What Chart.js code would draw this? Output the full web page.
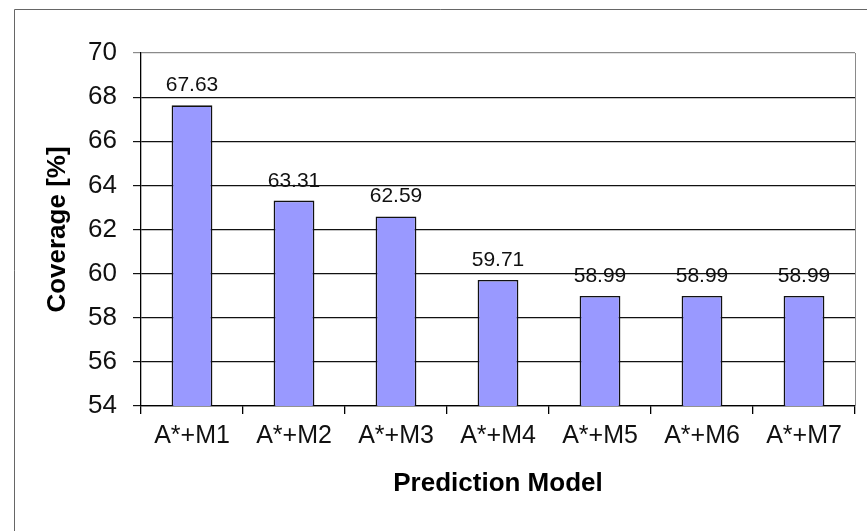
<!DOCTYPE html>
<html>
<head>
<meta charset="utf-8">
<title>Coverage by prediction model</title>
<script src="https://cdn.jsdelivr.net/npm/chart.js@4.4.1/dist/chart.umd.min.js"></script>
<style>
  html, body { margin: 0; padding: 0; background: #ffffff; }
  #wrap { position: relative; width: 867px; height: 531px; }
</style>
</head>
<body>
<div id="wrap"><canvas id="chart" width="867" height="531"></canvas></div>
<script>
// Prediction models and their coverage (%)
const models = ['A*+M1', 'A*+M2', 'A*+M3', 'A*+M4', 'A*+M5', 'A*+M6', 'A*+M7'];
const coverage = [67.63, 63.31, 62.59, 59.71, 58.99, 58.99, 58.99];
const valueLabels = ['67.63', '63.31', '62.59', '59.71', '58.99', '58.99', '58.99'];
const yMin = 54;
const yMax = 70;
const yStep = 2;

const FONT = '"Liberation Sans", Arial, Helvetica, sans-serif';

// Outer frame (left and top edges) plus the grey right border of the plot
const framePlugin = {
  id: 'frame',
  beforeDraw(chart) {
    const ctx = chart.ctx;
    ctx.save();
    ctx.strokeStyle = '#666666';
    ctx.lineWidth = 1;
    ctx.beginPath();
    ctx.moveTo(14.5, chart.height);
    ctx.lineTo(14.5, 9.5);
    ctx.lineTo(chart.width, 9.5);
    ctx.stroke();
    ctx.restore();
  },
  afterDatasetsDraw(chart) {
    const a = chart.chartArea;
    const ctx = chart.ctx;
    ctx.save();
    ctx.strokeStyle = '#8a8a8a';
    ctx.lineWidth = 1;
    ctx.beginPath();
    ctx.moveTo(Math.round(a.right) + 0.5, a.top);
    ctx.lineTo(Math.round(a.right) + 0.5, a.bottom);
    ctx.stroke();
    ctx.restore();
  }
};

// Value written above each bar
const valueLabelPlugin = {
  id: 'valueLabels',
  afterDatasetsDraw(chart) {
    const ctx = chart.ctx;
    const meta = chart.getDatasetMeta(0);
    ctx.save();
    ctx.font = '21px ' + FONT;
    ctx.fillStyle = '#111111';
    ctx.textAlign = 'center';
    ctx.textBaseline = 'alphabetic';
    meta.data.forEach((bar, i) => {
      ctx.fillText(valueLabels[i], bar.x, bar.y - 14);
    });
    ctx.restore();
  }
};

new Chart(document.getElementById('chart'), {
  type: 'bar',
  data: {
    labels: models,
    datasets: [{
      data: coverage,
      backgroundColor: '#9999ff',
      borderColor: '#111111',
      borderWidth: 1.6,
      borderSkipped: false,
      categoryPercentage: 1.0,
      barPercentage: 0.4
    }]
  },
  options: {
    responsive: false,
    animation: false,
    devicePixelRatio: 1,
    layout: { padding: { left: 42, right: 12, top: 53, bottom: 32 } },
    plugins: {
      legend: { display: false },
      tooltip: { enabled: false }
    },
    scales: {
      x: {
        type: 'category',
        offset: true,
        grid: {
          offset: true,
          drawOnChartArea: false,
          drawTicks: true,
          tickLength: 8,
          color: '#000000',
          lineWidth: 1.3
        },
        border: { display: true, color: '#000000', width: 1.3 },
        ticks: {
          color: '#111111',
          font: { family: FONT, size: 25 },
          padding: 7,
          maxRotation: 0,
          autoSkip: false
        },
        title: {
          display: true,
          text: 'Prediction Model',
          color: '#000000',
          font: { family: FONT, size: 26, weight: 'bold', lineHeight: 1.2 },
          padding: { top: 0, bottom: 0 }
        },
        afterFit(scale) { scale.height = 93; }
      },
      y: {
        min: yMin,
        max: yMax,
        grid: {
          color: (c) => (c.tick && c.tick.value === yMax ? '#8a8a8a' : '#111111'),
          lineWidth: 1.2,
          drawTicks: true,
          tickLength: 8
        },
        border: { display: true, color: '#000000', width: 1.3 },
        ticks: {
          stepSize: yStep,
          color: '#111111',
          font: { family: FONT, size: 26 },
          padding: 16
        },
        title: {
          display: true,
          text: 'Coverage [%]',
          color: '#000000',
          font: { family: FONT, size: 26, weight: 'bold', lineHeight: 1.2 },
          padding: { top: 0, bottom: 0 }
        },
        afterFit(scale) { scale.width = 99; }
      }
    }
  },
  plugins: [framePlugin, valueLabelPlugin]
});
</script>
</body>
</html>
